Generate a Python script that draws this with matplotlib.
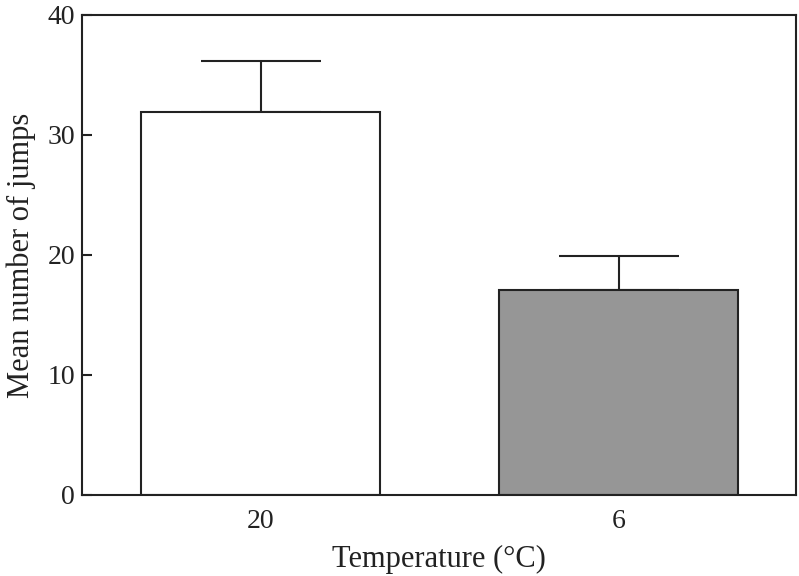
import matplotlib
matplotlib.use("Agg")
import matplotlib.pyplot as plt

categories = ["20", "6"]
means = [31.9, 17.1]
errors = [4.3, 2.8]
colors = ["white", "#969696"]

plt.rcParams['font.family'] = ['Liberation Serif', 'DejaVu Serif']

fig = plt.figure(figsize=(7.99, 5.76), dpi=100)
ax = fig.add_axes([82/799, 1-495/576, (796-82)/799, (495-15)/576])

x = list(range(len(categories)))
ax.bar(x, means, width=0.667, color=colors, edgecolor="#222222", linewidth=1.5, zorder=2)
ax.errorbar(x, means, yerr=[[0]*len(errors), errors], fmt="none", ecolor="#222222",
            elinewidth=1.5, capsize=43, capthick=1.5, zorder=1)

ax.set_xlim(-0.498, 1.494)
ax.set_ylim(0, 40)
ax.set_yticks([0, 10, 20, 30, 40])
ax.set_xticks(x)
ax.set_xticklabels(categories)
ax.tick_params(direction="in", length=7, width=1.5, labelsize=20, colors="#222222")
ax.tick_params(axis="x", pad=10)
ax.tick_params(axis="y", pad=5)
for s in ax.spines.values():
    s.set_linewidth(1.5)
    s.set_color("#222222")
ax.set_xlabel("Temperature (°C)", fontsize=22, labelpad=8, color="#222222")
ax.set_ylabel("Mean number of jumps", fontsize=22, labelpad=8, color="#222222")

fig.savefig("out.png", dpi=100)
